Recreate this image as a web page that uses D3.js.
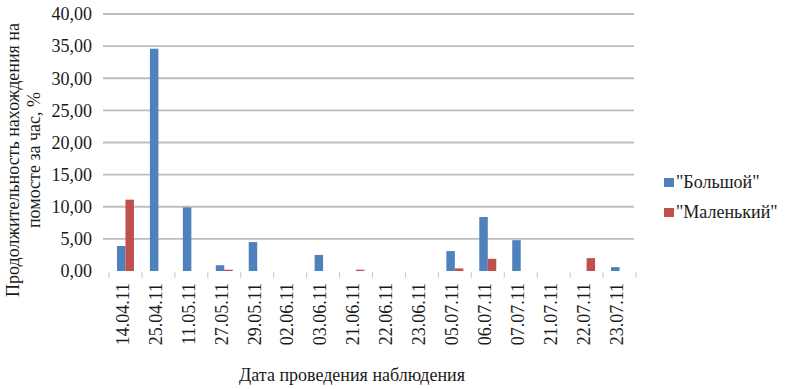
<!DOCTYPE html>
<html>
<head>
<meta charset="utf-8">
<script src="https://cdn.jsdelivr.net/npm/d3@7"></script>
<style>
  body { margin: 0; background: #fff; }
  text { font-family: "Liberation Serif", serif !important; }
</style>
</head>
<body>
<script>
const dates = ["14.04.11", "25.04.11", "11.05.11", "27.05.11", "29.05.11", "02.06.11", "03.06.11", "21.06.11",
  "22.06.11", "23.06.11", "05.07.11", "06.07.11", "07.07.11", "21.07.11", "22.07.11", "23.07.11"];
const seriesNames = ["\"Большой\"", "\"Маленький\""];
const bigValues = [3.9, 34.6, 9.9, 0.9, 4.5, 0, 2.5, 0, 0, 0, 3.1, 8.4, 4.8, 0, 0, 0.6];
const smallValues = [11.1, 0, 0, 0.2, 0, 0, 0, 0.2, 0, 0, 0.4, 1.9, 0, 0, 2.0, 0];
const yTicks = [0, 5, 10, 15, 20, 25, 30, 35, 40];
const colors = ["#4f81bd", "#c0504d"];

const width = 790, height = 389;
const margin = { top: 14, right: 154, bottom: 118, left: 109 };
const fontSize = 18;
const textColor = "#1a1a1a";

const svg = d3.select("body").append("svg")
  .attr("width", width)
  .attr("height", height)
  .attr("font-family", "Liberation Serif")
  .style("display", "block");

const x = d3.scaleBand().domain(dates).range([margin.left, width - margin.right]);
const xs = d3.scaleBand().domain(seriesNames).range([0, x.bandwidth()]).paddingOuter(0.94);
const y = d3.scaleLinear().domain([0, 40]).range([height - margin.bottom, margin.top]);

const fmt = (v) => v.toFixed(2).replace(".", ",");

function label(sel) {
  return sel.attr("font-size", fontSize)
    .attr("fill", textColor)
    .style("font-family", "\"Liberation Serif\"");
}

// gridlines
svg.append("g")
  .selectAll("line")
  .data(yTicks.filter((d) => d > 0))
  .join("line")
  .attr("x1", margin.left - 6)
  .attr("x2", width - margin.right - 2)
  .attr("y1", (d) => y(d))
  .attr("y2", (d) => y(d))
  .attr("stroke", "#bdbdbd")
  .attr("stroke-width", 1.8);

// y tick labels
svg.append("g")
  .selectAll("text")
  .data(yTicks)
  .join("text")
  .attr("x", 92)
  .attr("y", (d) => y(d))
  .attr("dy", "0.35em")
  .attr("text-anchor", "end")
  .call(label)
  .text(fmt);

// bars
const rows = dates.map((d, i) => ({ date: d, vals: [bigValues[i], smallValues[i]] }));
svg.append("g")
  .selectAll("g")
  .data(rows)
  .join("g")
  .attr("transform", (d) => `translate(${x(d.date)},0)`)
  .selectAll("rect")
  .data((d) => d.vals.map((v, k) => ({ key: seriesNames[k], v, k })))
  .join("rect")
  .attr("x", (d) => xs(d.key))
  .attr("width", xs.bandwidth())
  .attr("y", (d) => y(d.v))
  .attr("height", (d) => y(0) - y(d.v))
  .attr("fill", (d) => colors[d.k]);

// x axis ticks
const x0 = y(0);
svg.append("g")
  .selectAll("line")
  .data(d3.range(dates.length + 1))
  .join("line")
  .attr("x1", (i) => margin.left + i * x.step())
  .attr("x2", (i) => margin.left + i * x.step())
  .attr("y1", x0 + 1)
  .attr("y2", x0 + 7)
  .attr("stroke", "#c8c8c8")
  .attr("stroke-width", 1);

// x tick labels
svg.append("g")
  .selectAll("text")
  .data(dates)
  .join("text")
  .attr("transform", (d) => `translate(${x(d) + x.bandwidth() / 2 - 3},${x0 + 12}) rotate(-90)`)
  .attr("text-anchor", "end")
  .attr("dy", "0.35em")
  .call(label)
  .text((d) => d);

// axis titles
svg.append("text")
  .attr("x", 352)
  .attr("y", 381)
  .attr("text-anchor", "middle")
  .call(label)
  .text("Дата проведения наблюдения");

const yTitle = svg.append("text")
  .attr("transform", "translate(0,160) rotate(-90)")
  .attr("text-anchor", "middle")
  .call(label);
yTitle.append("tspan").attr("x", 0).attr("y", 19).text("Продолжительность нахождения на");
yTitle.append("tspan").attr("x", 0).attr("y", 40).text("помосте за час, %");

// legend
const legend = svg.append("g")
  .selectAll("g")
  .data(seriesNames)
  .join("g")
  .attr("transform", (d, i) => `translate(664,${182 + i * 30})`);

legend.append("rect")
  .attr("x", 0)
  .attr("y", -4)
  .attr("width", 10)
  .attr("height", 9)
  .attr("fill", (d, i) => colors[i]);

legend.append("text")
  .attr("x", 12)
  .attr("dy", "0.35em")
  .call(label)
  .text((d) => d);
</script>
</body>
</html>
